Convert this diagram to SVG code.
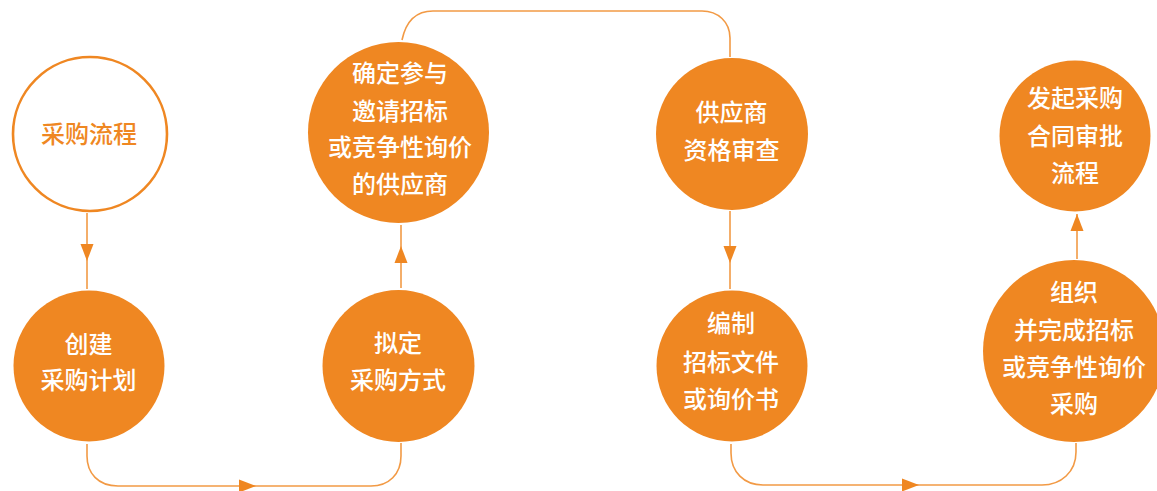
<svg xmlns="http://www.w3.org/2000/svg" xmlns:xlink="http://www.w3.org/1999/xlink" width="1157" height="491" viewBox="0 0 1157 491">
<style>
.fill{fill:#EF8722;}
.outline{fill:#FFFFFF;stroke:#EF8722;stroke-width:2.6;}
.conn{fill:none;stroke:#F29A45;stroke-width:1.6;}
.ah{fill:#EF8722;}
text{font-family:"Noto Sans CJK SC","Noto Sans",sans-serif;font-size:24px;font-weight:500;text-anchor:middle;}
.w{fill:#FFFFFF;}
.o{fill:#EF8722;}
</style>
<defs>
<path id="arrow" d="M0 0 L-17 -6.5 L-17 6.5 Z"/>
</defs>
<g id="connectors">
<path class="conn" d="M87 213 L87 289"/>
<path class="conn" d="M87 444 L87 456 C87 473 98 486 118 486 L371 486 C389 486 401 474 401 456 L401 443"/>
<path class="conn" d="M401 288 L401 225"/>
<path class="conn" d="M402 40 C406 21 416 11 433 11 L702 11 C718 11 730 22 730 38 L730 57"/>
<path class="conn" d="M730 211 L730 289"/>
<path class="conn" d="M731 444 L731 453 C731 472 744 485 763 485 L1042 485 C1061 485 1076 472 1076 452 L1076 443"/>
<path class="conn" d="M1077 259 L1077 214"/>
<use xlink:href="#arrow" class="ah" transform="translate(87,261) rotate(90)"/>
<use xlink:href="#arrow" class="ah" transform="translate(256,486)"/>
<use xlink:href="#arrow" class="ah" transform="translate(401,246) rotate(-90)"/>
<use xlink:href="#arrow" class="ah" transform="translate(730,263) rotate(90)"/>
<use xlink:href="#arrow" class="ah" transform="translate(919,485)"/>
<use xlink:href="#arrow" class="ah" transform="translate(1077,214) rotate(-90)"/>
</g>
<g id="n1">
<circle class="outline" cx="90" cy="134" r="77"/>
<text class="o" x="89" y="143">采购流程</text>
</g>
<g id="n2">
<circle class="fill" cx="89" cy="366" r="75.5"/>
<text class="w" x="88.5" y="353">创建</text>
<text class="w" x="88.5" y="389">采购计划</text>
</g>
<g id="n3">
<circle class="fill" cx="398.5" cy="132.5" r="90.5"/>
<text class="w" x="400" y="82">确定参与</text>
<text class="w" x="400" y="119.5">邀请招标</text>
<text class="w" x="400" y="156">或竞争性询价</text>
<text class="w" x="400" y="193">的供应商</text>
</g>
<g id="n4">
<circle class="fill" cx="398.5" cy="366" r="76"/>
<text class="w" x="398" y="352">拟定</text>
<text class="w" x="398" y="389">采购方式</text>
</g>
<g id="n5">
<circle class="fill" cx="732" cy="134" r="76"/>
<text class="w" x="731.5" y="121">供应商</text>
<text class="w" x="731.5" y="159">资格审查</text>
</g>
<g id="n6">
<circle class="fill" cx="732" cy="366" r="75.5"/>
<text class="w" x="731" y="332">编制</text>
<text class="w" x="731" y="370.5">招标文件</text>
<text class="w" x="731" y="408">或询价书</text>
</g>
<g id="n7">
<circle class="fill" cx="1075" cy="136" r="75.5"/>
<text class="w" x="1075" y="107">发起采购</text>
<text class="w" x="1075" y="145">合同审批</text>
<text class="w" x="1075" y="182">流程</text>
</g>
<g id="n8">
<circle class="fill" cx="1074" cy="351" r="91"/>
<text class="w" x="1074" y="301">组织</text>
<text class="w" x="1074" y="338.5">并完成招标</text>
<text class="w" x="1074" y="376">或竞争性询价</text>
<text class="w" x="1074" y="413">采购</text>
</g>
</svg>
